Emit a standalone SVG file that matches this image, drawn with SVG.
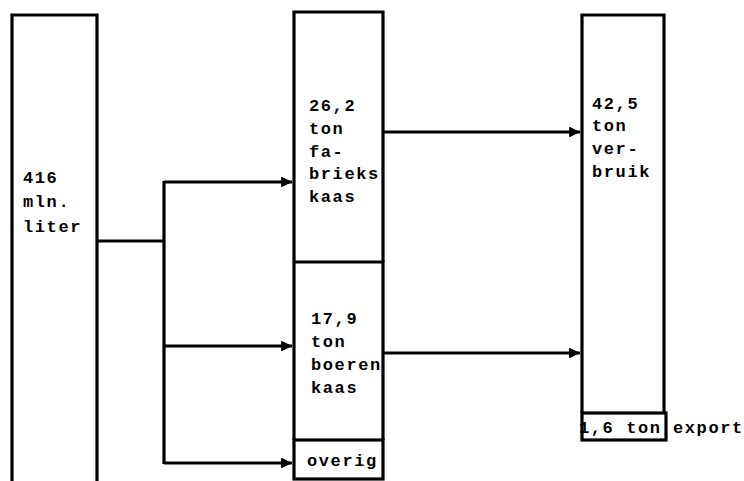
<svg xmlns="http://www.w3.org/2000/svg" width="744" height="481" viewBox="0 0 744 481">
<defs>
<style>
.box{fill:none;stroke:#000;stroke-width:3.2;stroke-linejoin:miter}
.ln{fill:none;stroke:#000;stroke-width:3.2}
.t{font-family:"Liberation Mono","DejaVu Sans Mono",monospace;font-size:17px;font-weight:bold;fill:#000;letter-spacing:1.6px}
</style>
<marker id="ah" viewBox="0 0 10 10" refX="10" refY="5" markerWidth="4.2" markerHeight="3.4" markerUnits="strokeWidth" orient="auto">
<path d="M0,0 L10,5 L0,10 z" fill="#000"/>
</marker>
</defs>
<rect width="744" height="481" fill="#fff"/>
<g id="melk">
<path class="box" d="M12,481 V15 H97 V481"/>
<text class="t" x="23" y="183">416</text>
<text class="t" x="23" y="207">mln.</text>
<text class="t" x="23" y="232">liter</text>
</g>
<g id="fabriekskaas">
<path class="box" d="M294,262 V12 H383 V262"/>
<text class="t" x="309" y="111">26,2</text>
<text class="t" x="309" y="134">ton</text>
<text class="t" x="309" y="157">fa-</text>
<text class="t" x="309" y="179">brieks</text>
<text class="t" x="309" y="202">kaas</text>
</g>
<g id="boerenkaas">
<path class="box" d="M294,262 H383 V440 M294,262 V440"/>
<text class="t" x="311" y="324">17,9</text>
<text class="t" x="311" y="347">ton</text>
<text class="t" x="311" y="370">boeren</text>
<text class="t" x="311" y="393">kaas</text>
</g>
<g id="overig">
<rect class="box" x="294" y="440" width="89" height="39"/>
<text class="t" x="307" y="466">overig</text>
</g>
<g id="verbruik">
<path class="box" d="M582,413 V15 H664 V413"/>
<text class="t" x="592" y="109">42,5</text>
<text class="t" x="592" y="131">ton</text>
<text class="t" x="592" y="154">ver-</text>
<text class="t" x="592" y="177">bruik</text>
</g>
<g id="export">
<text class="t" x="579" y="433">1,6 ton</text>
<rect class="box" x="582" y="413" width="84" height="27"/>
<text class="t" x="673" y="433">export</text>
</g>
<g id="connectors">
<path class="ln" d="M97,241 H164 M164,181 V464"/>
<path class="ln" d="M164,182 H292" marker-end="url(#ah)"/>
<path class="ln" d="M164,346 H292" marker-end="url(#ah)"/>
<path class="ln" d="M164,463 H292" marker-end="url(#ah)"/>
<path class="ln" d="M383,132 H580" marker-end="url(#ah)"/>
<path class="ln" d="M383,353 H580" marker-end="url(#ah)"/>
</g>
</svg>
